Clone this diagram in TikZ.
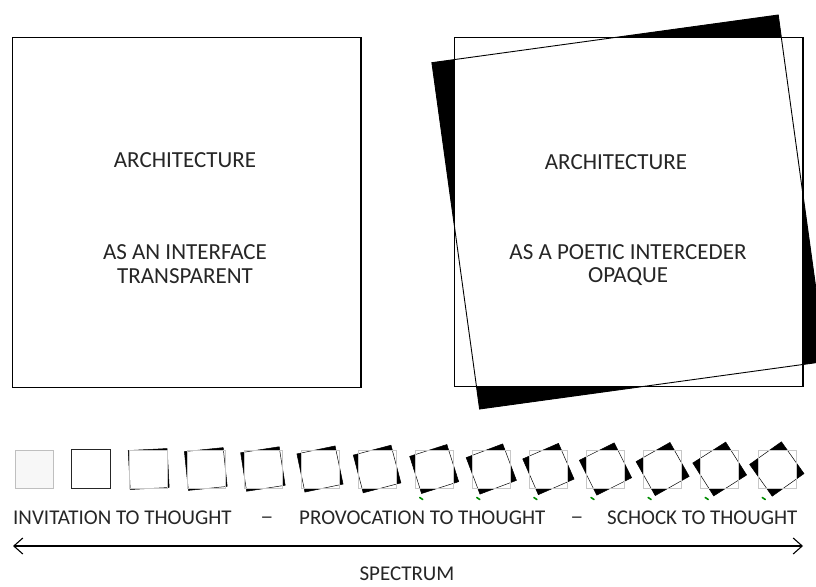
\documentclass[tikz,border=0pt]{standalone}
\usepackage{fontspec}
\setmainfont{Carlito}
\usetikzlibrary{arrows.meta}
\tikzset{
  frame/.style={draw=black, line width=1.2pt},
  txt/.style={font=\fontsize{21}{23.5}\selectfont, text=black!85, inner sep=0pt, align=center},
  bigtxt/.style={font=\fontsize{23}{23.5}\selectfont, text=black!85, inner sep=0pt, align=center},
  greentick/.style={draw=green!55!black, line width=1.6pt, line cap=round},
}
% #1 cx, #2 cy, #3 side of rotated square, #4 angle, #5 side of upright square,
% #6 rotated outline width, #7 upright outline style
\newcommand{\tilted}[7]{%
  \begin{scope}[shift={(#1,#2)}]
    \fill[black, rotate=#4] (-#3/2,-#3/2) rectangle (#3/2,#3/2);
    \fill[white] (-#5/2,-#5/2) rectangle (#5/2,#5/2);
    \draw[black, line width=#6, rotate=#4] (-#3/2,-#3/2) rectangle (#3/2,#3/2);
    \draw[#7] (-#5/2,-#5/2) rectangle (#5/2,#5/2);
  \end{scope}
}
\begin{document}
\begin{tikzpicture}[x=1pt,y=-1pt]
\clip (0,0) rectangle (816,586);
\fill[white] (0,0) rectangle (816,586);

% left figure
\draw[frame] (12.5,37.5) rectangle (361,387.5);
\node[bigtxt] (la) at (185,160) {ARCHITECTURE};
\node[bigtxt] (lb) at (185,264) {AS AN INTERFACE\\TRANSPARENT};

% right figure
\tilted{628.9}{212}{349.6}{7.84}{348.3}{0.9pt}{frame}
\node[bigtxt] (ra) at (616,162.5) {ARCHITECTURE};
\node[bigtxt] (rb) at (628,265) {AS A POETIC INTERCEDER\\OPAQUE};

% small squares
\draw[draw=black!25, fill=black!3, line width=1pt] (15.5,450) rectangle (53.5,488);
\draw[black!85, line width=0.8pt] (71.5,449.5) rectangle (110.5,488.5);
\foreach \i in {2,...,13}{
  \pgfmathsetmacro{\cx}{34.5+57.1*\i}
  \pgfmathsetmacro{\th}{(\i-1)*2.95}
  \tilted{\cx}{469}{39}{\th}{38}{0.5pt}{draw=black!22, line width=0.5pt}
}
\foreach \i in {7,...,13}{
  \pgfmathsetmacro{\gx}{34.5+57.1*\i-13}
  \draw[greentick] (\gx-1.5,497.5) -- (\gx+1.5,499.5);
}

% labels
\node[txt, anchor=base west] (inv) at (13,524) {INVITATION TO THOUGHT};
\node[txt, anchor=base] (d1) at (267,523) {\scalebox{1.25}[1]{–}};
\node[txt, anchor=base west] (pro) at (299,524) {PROVOCATION TO THOUGHT};
\node[txt, anchor=base] (d2) at (577,523) {\scalebox{1.25}[1]{–}};
\node[txt, anchor=base west] (sch) at (607,524) {SCHOCK TO THOUGHT};

% spectrum arrow
\coordinate (sl) at (13,546);
\coordinate (sr) at (803,546);
\draw[{Straight Barb[length=9pt,width=16pt]}-{Straight Barb[length=9pt,width=16pt]}, line width=1.1pt] (sl) -- (sr);
\node[txt] (spec) at (407,574) {SPECTRUM};
\end{tikzpicture}
\end{document}
